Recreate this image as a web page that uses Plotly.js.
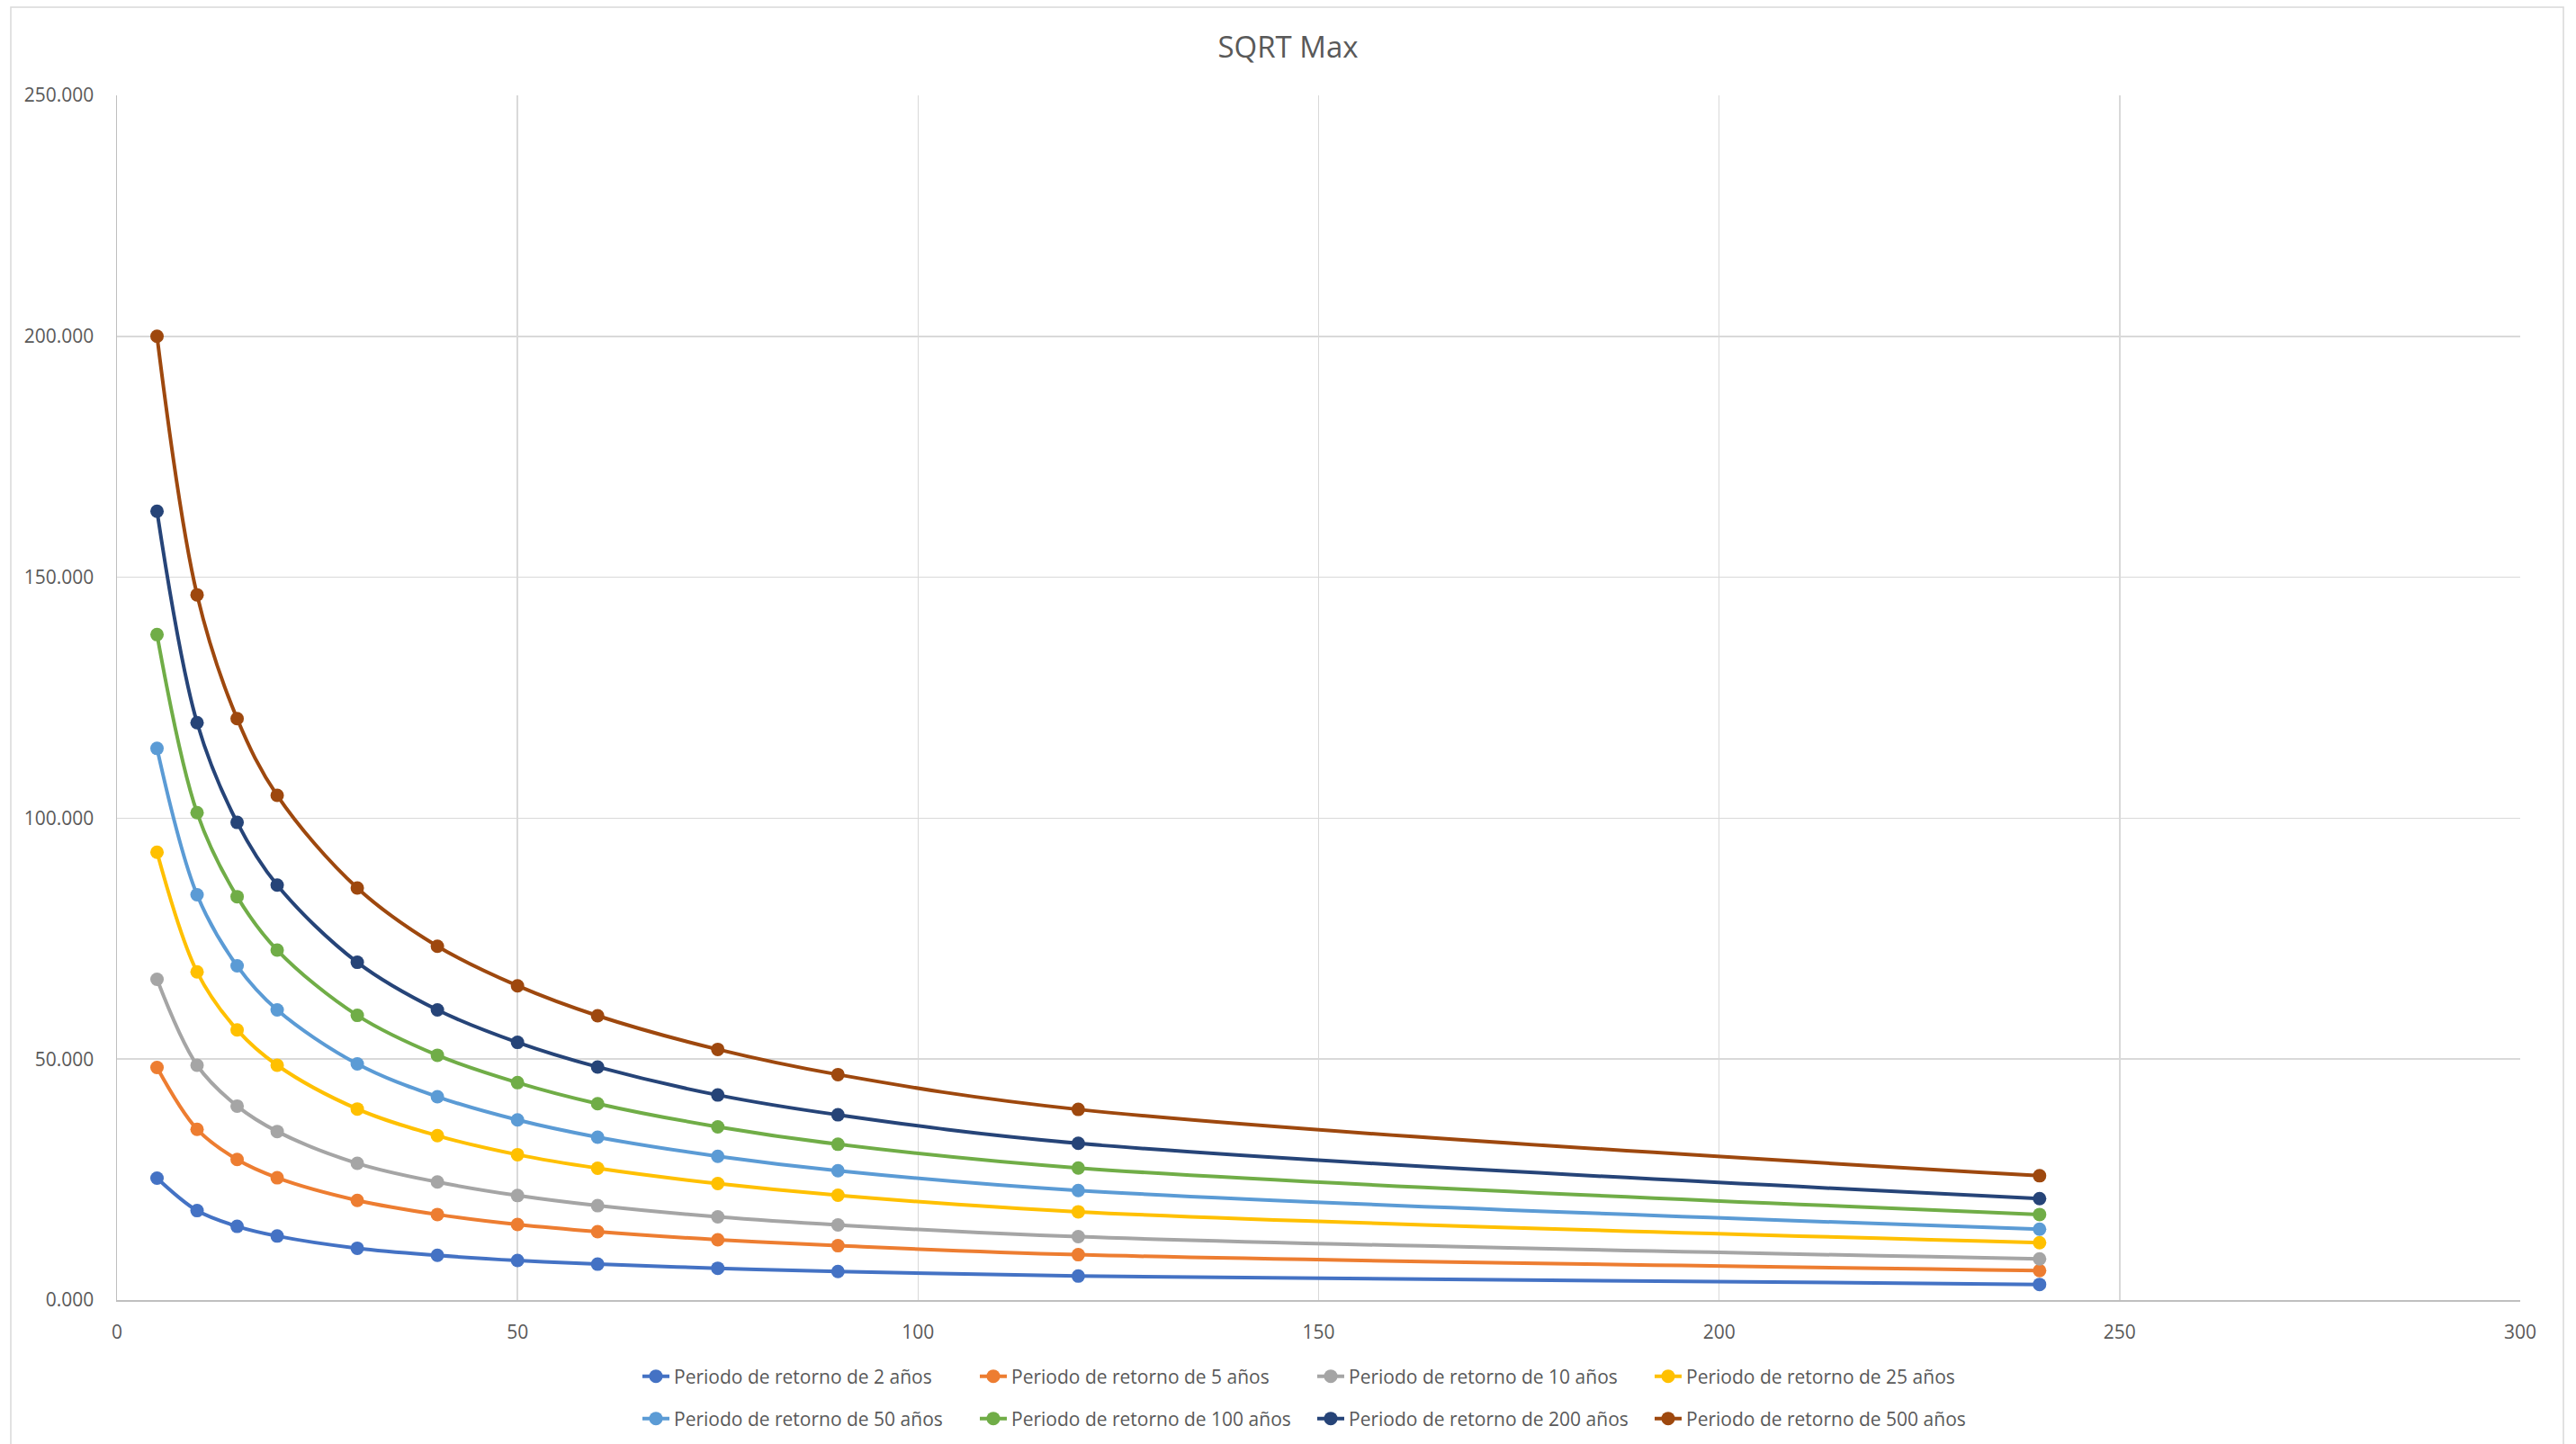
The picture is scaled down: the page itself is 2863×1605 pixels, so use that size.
<!DOCTYPE html>
<html>
<head>
<meta charset="utf-8">
<script src="https://cdn.plot.ly/plotly-3.0.1.min.js"></script>
<style>
  html, body { margin: 0; padding: 0; background: #ffffff; }
  #chart { width: 2863px; height: 1605px; }
</style>
</head>
<body>
<div id="chart"></div>
<script>
// Duración de la tormenta (min)
const durations = [5, 10, 15, 20, 30, 40, 50, 60, 75, 90, 120, 240];

// Valores por periodo de retorno
const tr2   = [25.30, 18.56, 15.29, 13.28, 10.75, 9.28, 8.21, 7.45, 6.60, 5.92, 4.98, 3.24];
const tr5   = [48.26, 35.44, 29.17, 25.37, 20.69, 17.76, 15.69, 14.20, 12.52, 11.28, 9.41, 6.11];
const tr10  = [66.55, 48.73, 40.25, 34.98, 28.37, 24.50, 21.69, 19.59, 17.26, 15.58, 13.15, 8.54];
const tr25  = [92.92, 68.09, 56.07, 48.73, 39.65, 34.11, 30.17, 27.35, 24.17, 21.74, 18.32, 11.90];
const tr50  = [114.48, 84.11, 69.35, 60.21, 49.00, 42.19, 37.38, 33.80, 29.84, 26.85, 22.74, 14.70];
const tr100 = [138.10, 101.14, 83.71, 72.62, 59.07, 50.80, 45.12, 40.76, 35.95, 32.33, 27.41, 17.76];
const tr200 = [163.69, 119.82, 99.12, 86.11, 70.09, 60.21, 53.47, 48.37, 42.55, 38.44, 32.52, 21.06];
const tr500 = [200.00, 146.35, 120.66, 104.73, 85.51, 73.43, 65.22, 59.00, 52.02, 46.79, 39.56, 25.79];

const seriesNames = [
  'Periodo de retorno de 2 años',
  'Periodo de retorno de 5 años',
  'Periodo de retorno de 10 años',
  'Periodo de retorno de 25 años',
  'Periodo de retorno de 50 años',
  'Periodo de retorno de 100 años',
  'Periodo de retorno de 200 años',
  'Periodo de retorno de 500 años'
];
const seriesValues = [tr2, tr5, tr10, tr25, tr50, tr100, tr200, tr500];
const seriesColors = ['#4472C4', '#ED7D31', '#A5A5A5', '#FFC000', '#5B9BD5', '#70AD47', '#264478', '#9E480E'];

const W = 2863, H = 1605;
const M = { l: 130, r: 62, t: 106, b: 160 };
const plotW = W - M.l - M.r, plotH = H - M.t - M.b;
const toPaperX = px => (px - M.l) / plotW;
const toPaperY = py => (H - M.b - py) / plotH;

const textColor = '#595959';
const fontFamily = '"Open Sans", "Liberation Sans", sans-serif';

const traces = seriesValues.map((vals, i) => ({
  type: 'scatter',
  mode: 'lines+markers',
  name: seriesNames[i],
  x: durations,
  y: vals,
  line: { color: seriesColors[i], width: 4, shape: 'spline', smoothing: 1 },
  marker: { color: seriesColors[i], size: 15 },
  legend: i < 4 ? 'legend' : 'legend2',
  hoverinfo: 'x+y+name'
}));

const legendCommon = {
  orientation: 'h',
  xref: 'container', yref: 'container',
  x: 709 / W, xanchor: 'left',
  yanchor: 'middle',
  entrywidth: 330, entrywidthmode: 'pixels',
  font: { family: fontFamily, size: 21, color: textColor },
  bgcolor: 'rgba(0,0,0,0)',
  borderwidth: 0,
  traceorder: 'normal'
};

const layout = {
  width: W, height: H,
  margin: M,
  paper_bgcolor: '#ffffff',
  plot_bgcolor: '#ffffff',
  font: { family: fontFamily, size: 21, color: textColor },
  title: {
    text: 'SQRT Max',
    font: { family: fontFamily, size: 33, color: textColor },
    xref: 'container', x: 0.5, xanchor: 'center',
    yref: 'container', y: 1 - 52 / H, yanchor: 'middle'
  },
  xaxis: {
    range: [0, 300],
    tick0: 0, dtick: 50,
    showgrid: true, gridcolor: '#D9D9D9', gridwidth: 1.5,
    zeroline: false,
    showline: true, linecolor: '#BFBFBF', linewidth: 1.5,
    ticks: '',
    ticklabelstandoff: 16,
    tickfont: { family: fontFamily, size: 21, color: textColor },
    fixedrange: true
  },
  yaxis: {
    range: [0, 250],
    tick0: 0, dtick: 50,
    tickformat: '.3f',
    showgrid: true, gridcolor: '#D9D9D9', gridwidth: 1.5,
    zeroline: false,
    showline: true, linecolor: '#BFBFBF', linewidth: 1.5,
    ticks: '',
    ticklabelstandoff: 20,
    tickfont: { family: fontFamily, size: 21, color: textColor },
    fixedrange: true
  },
  showlegend: true,
  legend: Object.assign({}, legendCommon, { y: 1 - 1530 / H }),
  legend2: Object.assign({}, legendCommon, { y: 1 - 1577 / H }),
  shapes: [{
    type: 'rect', xref: 'paper', yref: 'paper', layer: 'below',
    x0: toPaperX(12), x1: toPaperX(2849),
    y0: toPaperY(1610), y1: toPaperY(8),
    line: { color: '#D9D9D9', width: 1.5 },
    fillcolor: 'rgba(0,0,0,0)'
  }]
};

Plotly.newPlot('chart', traces, layout, { displayModeBar: false, staticPlot: true });
</script>
</body>
</html>
